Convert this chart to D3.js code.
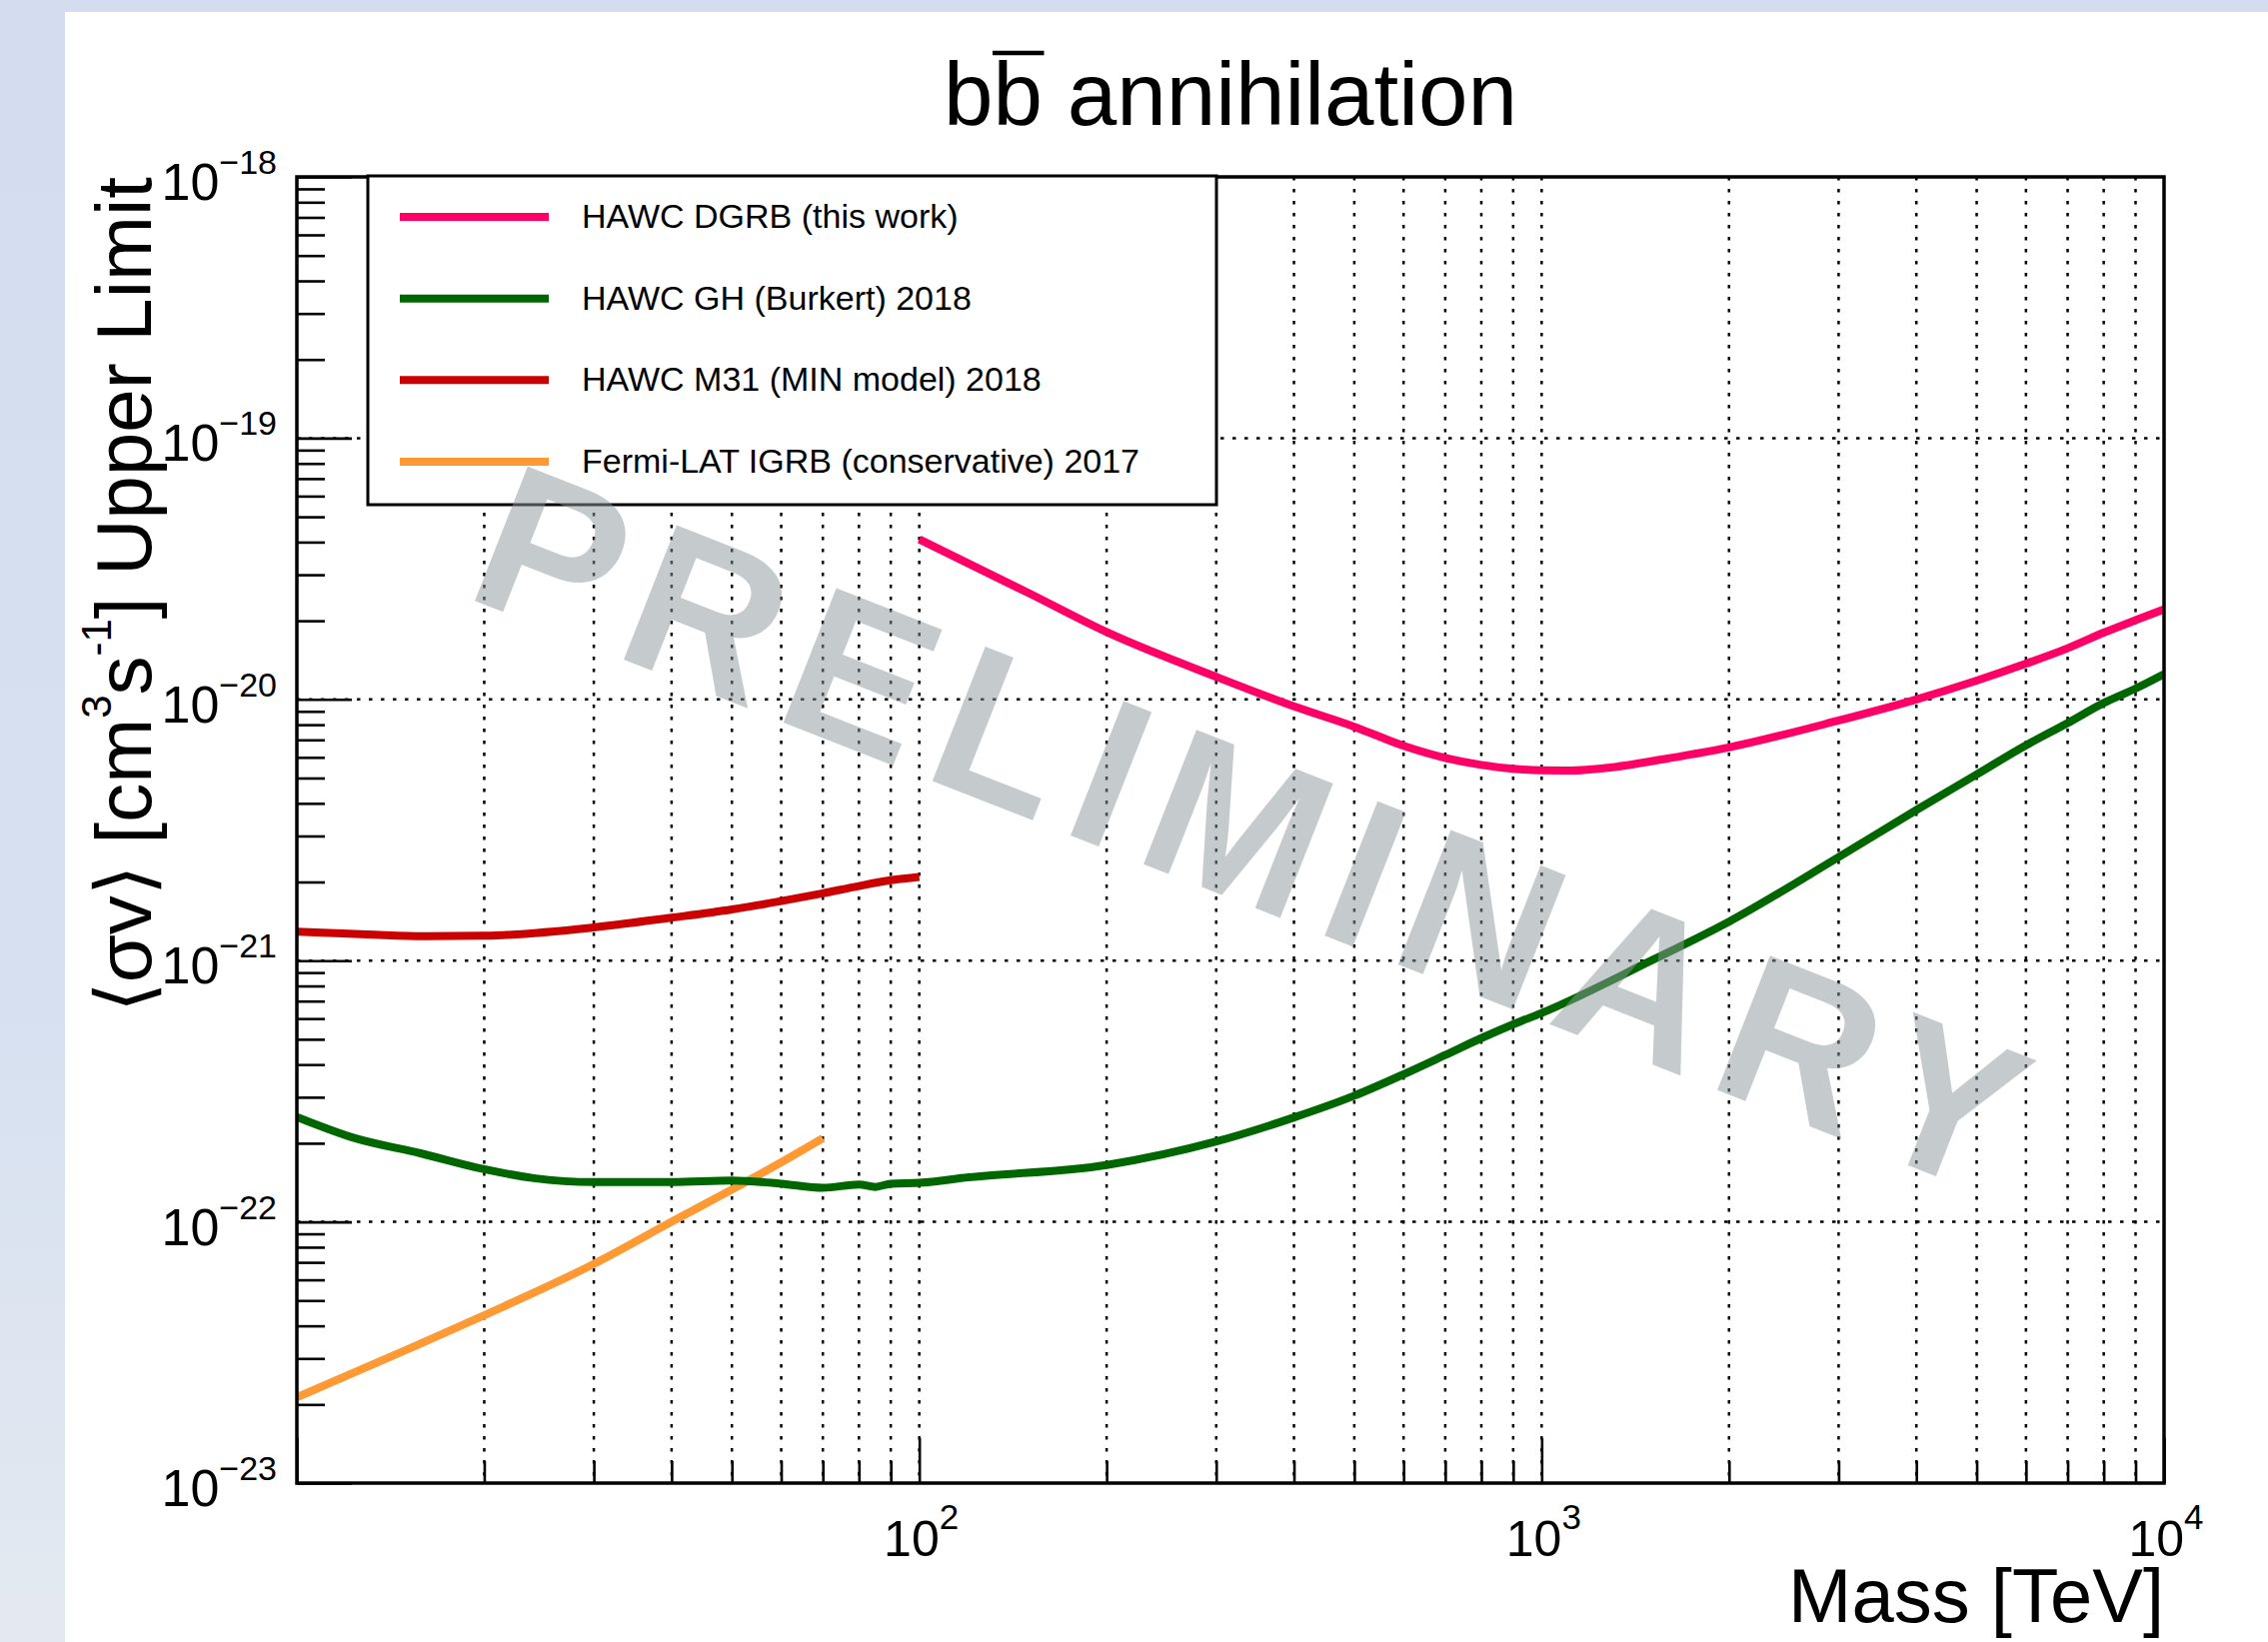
<!DOCTYPE html>
<html><head><meta charset="utf-8">
<script src="https://cdn.jsdelivr.net/npm/d3@7"></script>
<style>html,body{margin:0;padding:0;background:#fff;overflow:hidden}</style>
</head><body>
<svg id="c" width="2269" height="1643"></svg>
<script>
// ---- data ----
const seriesNames = ["HAWC DGRB (this work)", "HAWC GH (Burkert) 2018", "HAWC M31 (MIN model) 2018", "Fermi-LAT IGRB (conservative) 2017"];
const seriesColors = ["#ff0066", "#006600", "#cc0000", "#ff9933"];

const massDGRB  = [100, 150, 200, 300, 400, 500, 600, 700, 800, 900, 1000, 1100, 1300, 1600, 2000, 3000, 4000, 5000, 6000, 7000, 8000, 9000, 10000];
const sigmaDGRB = [4.1e-20, 2.55e-20, 1.81e-20, 1.22e-20, 9.4e-21, 7.86e-21, 6.64e-21, 5.97e-21, 5.61e-21, 5.42e-21, 5.35e-21, 5.34e-21, 5.5e-21, 5.95e-21, 6.55e-21, 8.3e-21, 1.0e-20, 1.18e-20, 1.37e-20, 1.57e-20, 1.80e-20, 2.01e-20, 2.21e-20];

const massGH  = [10, 12.4, 15.8, 20, 24, 30, 40, 50, 60, 70, 80, 85, 90, 100, 120, 200, 300, 400, 500, 600, 700, 800, 900, 1000, 1500, 2000, 3000, 4000, 5000, 6000, 7000, 8000, 9000, 10000];
const sigmaGH = [2.52e-22, 2.09e-22, 1.83e-22, 1.59e-22, 1.47e-22, 1.42e-22, 1.42e-22, 1.44e-22, 1.40e-22, 1.35e-22, 1.39e-22, 1.36e-22, 1.40e-22, 1.41e-22, 1.48e-22, 1.65e-22, 2.03e-22, 2.51e-22, 3.04e-22, 3.67e-22, 4.35e-22, 5.05e-22, 5.7e-22, 6.3e-22, 1.0e-21, 1.41e-21, 2.49e-21, 3.77e-21, 5.16e-21, 6.67e-21, 8.12e-21, 9.69e-21, 1.10e-20, 1.25e-20];

const massM31  = [10, 13, 16, 20, 30, 40, 50, 60, 70, 80, 90, 100];
const sigmaM31 = [1.29e-21, 1.26e-21, 1.24e-21, 1.245e-21, 1.34e-21, 1.46e-21, 1.57e-21, 1.69e-21, 1.81e-21, 1.93e-21, 2.03e-21, 2.09e-21];

const massFermi  = [10, 15, 20, 30, 40, 50, 60, 70];
const sigmaFermi = [2.13e-23, 3.24e-23, 4.39e-23, 6.9e-23, 1.0e-22, 1.33e-22, 1.69e-22, 2.09e-22];

const xMajor = [100, 1000, 10000];
const xMajorExp = ["2", "3", "4"];
const yMajor = [1e-18, 1e-19, 1e-20, 1e-21, 1e-22, 1e-23];
const yMajorExp = ["\u221218", "\u221219", "\u221220", "\u221221", "\u221222", "\u221223"];

const titleText = "bb annihilation";
const xTitle = "Mass [TeV]";
const watermark = "PRELIMINARY";

// ---- layout ----
const FONT = "'Liberation Sans', Arial, Helvetica, sans-serif";
const L = 297, R = 2165, T = 177, B = 1484;
const svg = d3.select("#c").style("font-family", FONT);

const defs = svg.append("defs");
const grad = defs.append("linearGradient").attr("id", "bg").attr("x1", 0).attr("y1", 0).attr("x2", 0).attr("y2", 1);
grad.append("stop").attr("offset", "0").attr("stop-color", "#d3ddef");
grad.append("stop").attr("offset", "0.6").attr("stop-color", "#d6e0f0");
grad.append("stop").attr("offset", "1").attr("stop-color", "#e4e9f1");
defs.append("clipPath").attr("id", "plotclip").append("rect")
  .attr("x", L).attr("y", T).attr("width", R - L).attr("height", B - T);

svg.append("rect").attr("width", 2269).attr("height", 1643).attr("fill", "url(#bg)");
svg.append("rect").attr("x", 65).attr("y", 12).attr("width", 2269 - 65).attr("height", 1643 - 12).attr("fill", "#fff");

const x = d3.scaleLog().domain([10, 1e4]).range([L, R]);
const y = d3.scaleLog().domain([1e-23, 1e-18]).range([B, T]);

// ---- grid ----
const xAll = x.ticks().filter(v => v > 10 && v < 1e4);
const grid = svg.append("g").attr("stroke", "#000").attr("stroke-width", 2.5).attr("stroke-dasharray", "3.5,8.5");
grid.selectAll("line.v").data(xAll).join("line").attr("class", "v")
  .attr("x1", d => x(d)).attr("x2", d => x(d)).attr("y1", T).attr("y2", B);
grid.selectAll("line.h").data(yMajor.filter(v => v > 1e-23 && v < 1e-18)).join("line").attr("class", "h")
  .attr("y1", d => y(d)).attr("y2", d => y(d)).attr("x1", L).attr("x2", R);

// ---- axes ticks ----
const isMajorX = v => xMajor.some(m => Math.abs(Math.log10(v) - Math.log10(m)) < 1e-6) || Math.abs(Math.log10(v) - 1) < 1e-6;
const xMinor = x.ticks().filter(v => !isMajorX(v));
const xMaj = x.ticks().filter(v => isMajorX(v));
const yTicksAll = y.ticks();
const isMajorY = v => Math.abs(Math.log10(v) - Math.round(Math.log10(v))) < 1e-6;
const yMinor = yTicksAll.filter(v => !isMajorY(v));
const yMaj = yTicksAll.filter(v => isMajorY(v));

function styleAxis(g) {
  g.select(".domain").remove();
  g.selectAll(".tick line").attr("stroke", "#000").attr("stroke-width", 2.6);
  g.selectAll(".tick text").remove();
}
svg.append("g").attr("transform", `translate(0,${B})`)
  .call(d3.axisBottom(x).tickValues(xMinor).tickSize(-22).tickFormat(() => "")).call(styleAxis);
svg.append("g").attr("transform", `translate(0,${B})`)
  .call(d3.axisBottom(x).tickValues(xMaj).tickSize(-45).tickFormat(() => "")).call(styleAxis);
svg.append("g").attr("transform", `translate(${L},0)`)
  .call(d3.axisLeft(y).tickValues(yMinor).tickSize(-28).tickFormat(() => "")).call(styleAxis);
svg.append("g").attr("transform", `translate(${L},0)`)
  .call(d3.axisLeft(y).tickValues(yMaj).tickSize(-55).tickFormat(() => "")).call(styleAxis);

// ---- curves ----
const series = [
  {m: massDGRB, s: sigmaDGRB},
  {m: massGH, s: sigmaGH},
  {m: massM31, s: sigmaM31},
  {m: massFermi, s: sigmaFermi}
];
const line = d3.line().x(d => x(d[0])).y(d => y(d[1])).curve(d3.curveMonotoneX);
const curves = svg.append("g").attr("clip-path", "url(#plotclip)");
[3, 2, 1, 0].forEach(i => {
  const pts = series[i].m.map((v, k) => [v, series[i].s[k]]);
  curves.append("path").attr("d", line(pts)).attr("fill", "none")
    .attr("stroke", seriesColors[i]).attr("stroke-width", 8).attr("stroke-linejoin", "round");
});

// ---- frame ----
svg.append("rect").attr("x", L).attr("y", T).attr("width", R - L).attr("height", B - T)
  .attr("fill", "none").attr("stroke", "#000").attr("stroke-width", 3.5);

// ---- tick labels ----
const yl = svg.append("g").attr("font-size", 52).attr("fill", "#000");
yMajor.forEach((v, i) => {
  const t = yl.append("text").attr("x", 277).attr("y", y(v) + 23).attr("text-anchor", "end");
  t.append("tspan").text("10");
  t.append("tspan").attr("dy", -26).attr("font-size", 34).text(yMajorExp[i]);
});
const xl = svg.append("g").attr("font-size", 50).attr("fill", "#000");
xMajor.forEach((v, i) => {
  const t = xl.append("text").attr("x", x(v) + 2).attr("y", 1557).attr("text-anchor", "middle");
  t.append("tspan").text("10");
  t.append("tspan").attr("dy", -27).attr("font-size", 35).text(xMajorExp[i]);
});

// ---- axis titles ----
svg.append("text").attr("x", R).attr("y", 1623).attr("text-anchor", "end")
  .attr("font-size", 76).text(xTitle);

const yt = svg.append("text").attr("transform", `translate(151,${T}) rotate(-90)`)
  .attr("text-anchor", "end").attr("font-size", 78);
yt.append("tspan").text("\u27E8\u03C3v\u27E9 [cm");
yt.append("tspan").attr("dy", -40).attr("font-size", 42).text("3");
yt.append("tspan").attr("dy", 40).text("s");
yt.append("tspan").attr("dy", -40).attr("font-size", 42).text("-1");
yt.append("tspan").attr("dy", 40).text("] Upper Limit");

// ---- title ----
const title = svg.append("text").attr("x", (L + R) / 2).attr("y", 125)
  .attr("text-anchor", "middle").attr("font-size", 89).text(titleText);
const ext = title.node().getExtentOfChar(1);
svg.append("line").attr("x1", ext.x - 0.5).attr("x2", ext.x + ext.width + 1.5)
  .attr("y1", 53).attr("y2", 53).attr("stroke", "#000").attr("stroke-width", 4.5);

// ---- legend ----
const lg = svg.append("g");
lg.append("rect").attr("x", 368).attr("y", 176).attr("width", 849).attr("height", 329)
  .attr("fill", "#fff").attr("stroke", "#000").attr("stroke-width", 3);
const legY = d3.scalePoint().domain(seriesNames).range([217, 462]);
seriesNames.forEach((n, i) => {
  lg.append("line").attr("x1", 400).attr("x2", 549).attr("y1", legY(n)).attr("y2", legY(n))
    .attr("stroke", seriesColors[i]).attr("stroke-width", 8);
  lg.append("text").attr("x", 582).attr("y", legY(n) + 11).attr("font-size", 34).text(n);
});

// ---- watermark ----
svg.append("text").attr("transform", "translate(462,596) rotate(21.5)")
  .attr("font-size", 210).attr("font-weight", "bold").attr("fill", "#8d989d").attr("opacity", 0.5)
  .attr("textLength", 1640).attr("lengthAdjust", "spacing").text(watermark);
</script>
</body></html>
